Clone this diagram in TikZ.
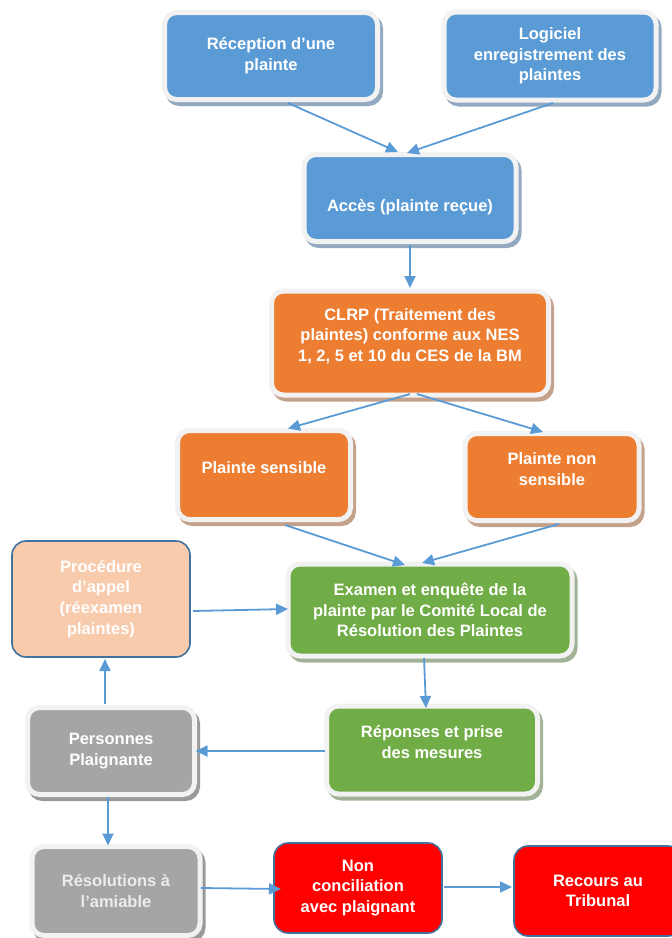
\documentclass[tikz,border=0pt]{standalone}
\usepackage{fontspec}
\setmainfont{Liberation Sans}
\usetikzlibrary{positioning,shadows,calc,arrows.meta}

\definecolor{bleu}{HTML}{5B9BD5}
\definecolor{ombrebleu}{HTML}{93A8C1}
\definecolor{orange}{HTML}{ED7D31}
\definecolor{ombreorange}{HTML}{C4A18B}
\definecolor{vert}{HTML}{70AD47}
\definecolor{ombrevert}{HTML}{A2B297}
\definecolor{gris}{HTML}{A5A5A5}
\definecolor{ombregris}{HTML}{9A9A9A}
\definecolor{anneau}{HTML}{F2F2F2}
\definecolor{peche}{HTML}{F8CBAD}
\definecolor{rouge}{HTML}{FF0000}
\definecolor{bord}{HTML}{41719C}
\definecolor{texgris}{HTML}{ECECEC}

\tikzset{
  cadre/.style={rectangle, rounded corners=12pt, draw=anneau, line width=5pt, outer sep=0pt,
    text=white, align=center, font=\bfseries\fontsize{16.5}{20.7}\selectfont},
  ombre/.style={drop shadow={shadow xshift=3pt, shadow yshift=-4pt, opacity=1, fill=#1, draw=#1, line width=5pt}},
  bleubox/.style={cadre, fill=bleu, ombre=ombrebleu},
  orangebox/.style={cadre, fill=orange, ombre=ombreorange},
  vertbox/.style={cadre, fill=vert, ombre=ombrevert},
  grisbox/.style={cadre, fill=gris, ombre=ombregris},
  simple/.style={rectangle, rounded corners=14pt, draw=bord, line width=1.6pt, outer sep=0pt,
    text=white, align=center, font=\bfseries\fontsize{16.5}{20.7}\selectfont},
  fleche/.style={draw=bleu, line width=1.8pt, -{Triangle[length=12pt,width=11pt]}}
}

\begin{document}
\begin{tikzpicture}[x=1pt,y=-1pt]
\useasboundingbox (0,0) rectangle (672,938);

% reception
\node[bleubox, minimum width=213, minimum height=87] (recep) at (271,56) {Réception d’une\\plainte};
\node[bleubox, minimum width=212, minimum height=88] (logic) at (550,56) {Logiciel\\enregistrement des\\plaintes};
\node[bleubox, minimum width=212, minimum height=87, text height=30pt] (acces) at (410,198) {Accès (plainte reçue)};

% traitement
\node[orangebox, minimum width=277, minimum height=104, text depth=16.5pt] (clrp) at (410,343) {CLRP (Traitement des\\plaintes) conforme aux NES\\1, 2, 5 et 10 du CES de la BM};
\node[orangebox, minimum width=173, minimum height=89, text depth=15pt] (sens) at (264,475) {Plainte sensible};
\node[orangebox, minimum width=174, minimum height=87, text depth=16pt] (nonsens) at (552,477) {Plainte non\\sensible};

% examen
\node[simple, fill=peche, minimum width=178, minimum height=116] (appel) at (101,599) {Procédure\\d’appel\\(réexamen\\plaintes)};
\node[vertbox, minimum width=284, minimum height=92] (examen) at (430,610) {Examen et enquête de la\\plainte par le Comité Local de\\Résolution des Plaintes};
\node[vertbox, minimum width=211, minimum height=88, text depth=16pt] (repon) at (432,750) {Réponses et prise\\des mesures};
\node[grisbox, minimum width=167, minimum height=87] (pers) at (111,751) {Personnes\\Plaignante};

% issues
\node[grisbox, text=texgris, minimum width=168, minimum height=89] (resol) at (116,891) {Résolutions à\\l’amiable};
\node[simple, fill=rouge, minimum width=168, minimum height=90] (noncon) at (358,888) {Non\\conciliation\\avec plaignant};
\node[simple, fill=rouge, minimum width=168, minimum height=90] (recours) at (598,891) {Recours au\\Tribunal};

% connecteurs
\draw[fleche] ($(recep.south)+(17,3.5)$) -- ($(acces.north)+(-12,-2.5)$);
\draw[fleche] ($(logic.south)+(3,3)$) -- ($(acces.north)+(-3,-1.5)$);
\draw[fleche] ($(acces.south)+(0,3.5)$) -- ($(clrp.north)+(0,-3)$);
\draw[fleche] ($(clrp.south)+(0,-1)$) -- ($(sens.north)+(24,-2)$);
\draw[fleche] ($(clrp.south)+(7,-1)$) -- ($(nonsens.north)+(-9,-1.5)$);
\draw[fleche] ($(sens.south)+(21,5.5)$) -- ($(examen.north)+(-25,1)$);
\draw[fleche] ($(nonsens.south)+(7,3.5)$) -- ($(examen.north)+(-8,-1)$);
\draw[fleche] ($(appel.east)+(3,12)$) -- ($(examen.west)+(0,-1)$);
\draw[fleche] ($(examen.south)+(-6,2)$) -- ($(repon.north)+(-6,2)$);
\draw[fleche] ($(repon.west)+(-1.5,1)$) -- ($(pers.east)+(1,0)$);
\draw[fleche] ($(pers.north)+(-6,-3.5)$) -- ($(appel.south)+(4,2)$);
\draw[fleche] ($(pers.south)+(-3,2.5)$) -- ($(resol.north)+(-8,-1)$);
\draw[fleche] ($(resol.east)+(1,-3)$) -- ($(noncon.west)+(7,1)$);
\draw[fleche] ($(noncon.east)+(2,-1)$) -- ($(recours.west)+(-2,-4)$);

\end{tikzpicture}
\end{document}
